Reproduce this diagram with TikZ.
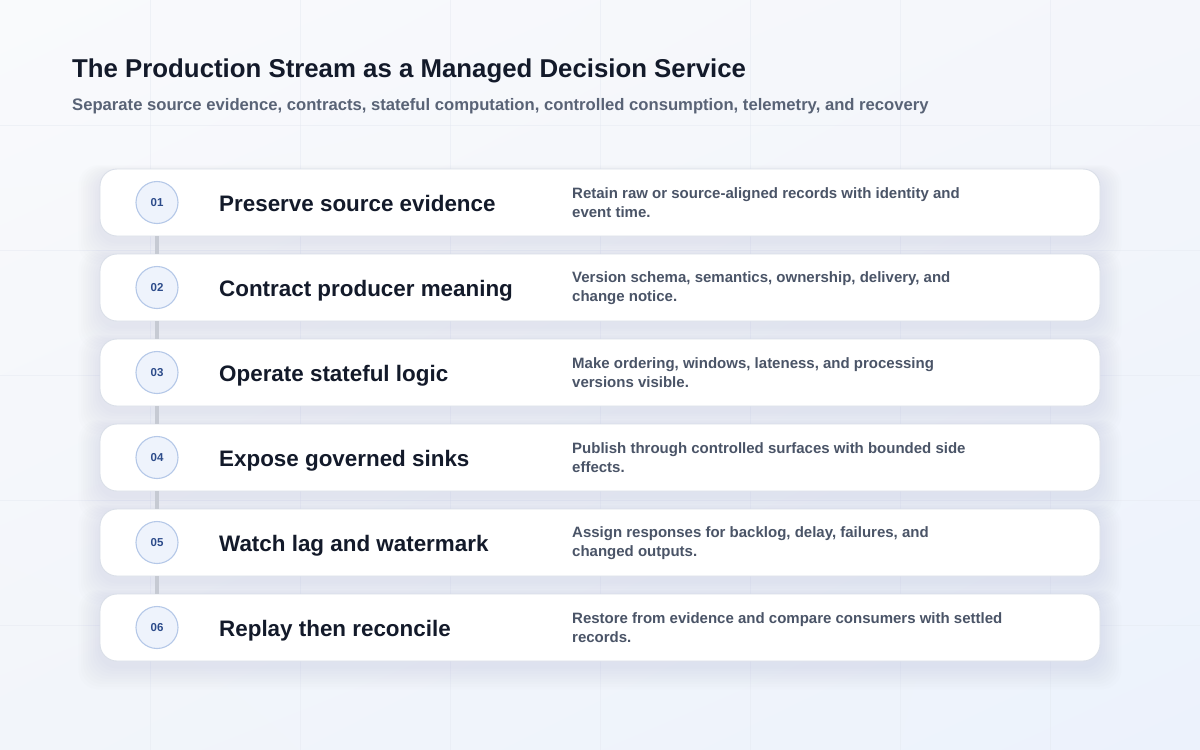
\documentclass[tikz,border=0pt]{standalone}
\usepackage{fontspec}
\setmainfont{Liberation Sans}
\usetikzlibrary{shadings}
\definecolor{titlec}{HTML}{131A2A}
\definecolor{subc}{HTML}{596376}
\definecolor{descc}{HTML}{4A5467}
\definecolor{numc}{HTML}{2C4B8A}
\definecolor{circfill}{HTML}{EEF3FC}
\definecolor{circline}{HTML}{B5C8E8}
\definecolor{cardline}{HTML}{DADFE8}
\definecolor{connc}{HTML}{C6CAD3}
\definecolor{gridc}{HTML}{E4E8F0}
\definecolor{shadowc}{HTML}{6F7AA0}
\definecolor{bgul}{HTML}{F9FAFC}
\definecolor{bgur}{HTML}{F4F6FB}
\definecolor{bgll}{HTML}{F2F5FA}
\definecolor{bglr}{HTML}{ECF2FC}
\tikzset{
  cardbox/.style={draw=cardline, line width=0.9pt, fill=white, rounded corners=17pt,
    minimum width=1000pt, minimum height=67pt, inner sep=0pt},
  numcirc/.style={circle, draw=circline, line width=1.1pt, fill=circfill,
    minimum size=42pt, inner sep=0pt, text=numc, font=\fontsize{11.5}{13}\selectfont\bfseries},
  steptitle/.style={anchor=base west, text=titlec, inner sep=0pt,
    font=\fontsize{22.4}{26}\selectfont\bfseries},
  stepdesc/.style={anchor=west, text=descc, inner sep=0pt, align=left,
    font=\fontsize{15}{19}\selectfont\bfseries},
  conn/.style={draw=connc, line width=3.2pt},
  gridline/.style={draw=gridc, line width=0.8pt, opacity=0.45}
}
\newcommand{\stepcard}[4]{%
  \pgfmathsetmacro\cy{202.5+85*(#1-1)}
  \node[cardbox] (card#1) at (600,\cy) {};
  \node[numcirc] (num#1) at (157,\cy) {#2};
  \node[steptitle] (title#1) at (219,\cy+9) {#3};
  \node[stepdesc] (desc#1) at (572,\cy+0.5) {#4};
}
\begin{document}
\begin{tikzpicture}[x=1pt,y=-1pt]
  \useasboundingbox (0,0) rectangle (1200,750);
  \shade[upper left=bgul, upper right=bgur, lower left=bgll, lower right=bglr] (0,0) rectangle (1200,750);
  \foreach \gx in {150,300,...,1050} \draw[gridline] (\gx,0) -- (\gx,750);
  \foreach \gy in {125,250,...,625} \draw[gridline] (0,\gy) -- (1200,\gy);
  % title
  \node[anchor=base west, inner sep=0pt, text=titlec, font=\fontsize{25.8}{30}\selectfont\bfseries] (maintitle) at (72,77)
    {The Production Stream as a Managed Decision Service};
  \node[anchor=base west, inner sep=0pt, text=subc, font=\fontsize{16.65}{19}\selectfont\bfseries] (subtitle) at (72,110)
    {Separate source evidence, contracts, stateful computation, controlled consumption, telemetry, and recovery};
  % shadows
  \foreach \i in {1,...,6}{
    \pgfmathsetmacro\cy{202.5+85*(\i-1)}
    \foreach \k in {1,...,9}{
      \fill[shadowc, opacity=0.013, rounded corners=20pt]
        (100-2.4*\k, \cy-33.5-1*\k+5) rectangle (1100+2.4*\k, \cy+33.5+2.6*\k+5);
    }
  }
  \stepcard{1}{01}{Preserve source evidence}{Retain raw or source-aligned records with identity and\\event time.}
  \stepcard{2}{02}{Contract producer meaning}{Version schema, semantics, ownership, delivery, and\\change notice.}
  \stepcard{3}{03}{Operate stateful logic}{Make ordering, windows, lateness, and processing\\versions visible.}
  \stepcard{4}{04}{Expose governed sinks}{Publish through controlled surfaces with bounded side\\effects.}
  \stepcard{5}{05}{Watch lag and watermark}{Assign responses for backlog, delay, failures, and\\changed outputs.}
  \stepcard{6}{06}{Replay then reconcile}{Restore from evidence and compare consumers with settled\\records.}
  \foreach \i [evaluate=\i as \j using int(\i+1)] in {1,...,5}{
    \draw[conn] (card\i.south -| num\i.center) -- (card\j.north -| num\i.center);
  }
\end{tikzpicture}
\end{document}
